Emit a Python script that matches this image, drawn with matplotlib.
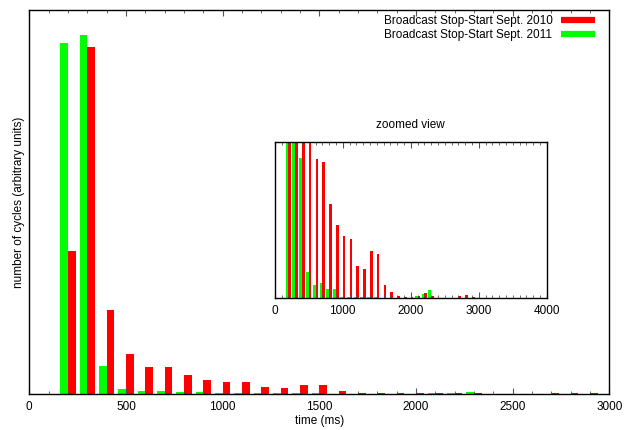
import numpy as np
import matplotlib
matplotlib.use("Agg")
import matplotlib.pyplot as plt
from matplotlib.lines import Line2D
from matplotlib.ticker import MultipleLocator

#Histogram data (arbitrary units), one bin every 100 ms
bins = list(range(100, 4000, 100))

stopstart_2010 = [0.0, 143, 347, 84, 40, 27, 26.5, 18.3, 14.2, 12.1,
                  11.5, 6.3, 5.7, 9.2, 8.6, 2.6, 1.2, 0.45, 0.3, 0.25,
                  0.45, 1.0, 0.45, 0.15, 0.15, 0.15, 0.5, 0.7, 0.3, 0.15,
                  0.1, 0.15, 0.1, 0.15, 0.1, 0.1, 0.1, 0.1, 0.15]

stopstart_2011 = [0.1, 351, 359, 27.3, 5.1, 2.6, 3.0, 1.8, 1.8, 0.25,
                  0.25, 0.25, 0.25, 0.25, 0.25, 0.15, 0.1, 0.1, 0.1, 0.15,
                  0.45, 0.85, 1.6, 0.15, 0.1, 0.1, 0.1, 0.1, 0.1, 0.1,
                  0.1, 0.1, 0.1, 0.1, 0.1, 0.1, 0.1, 0.1, 0.15]

labels = ["Broadcast Stop-Start Sept. 2010", "Broadcast Stop-Start Sept. 2011"]
colors = ["#ff0000", "#00ff00"]

BAR_WIDTH = 40
FONT = "Liberation Sans"
FS = 8.5

W, H = 629, 430


def draw_bars(ax):
    x = np.array(bins)
    ax.bar(x - BAR_WIDTH, stopstart_2011, width=BAR_WIDTH, align="edge",
           color=colors[1], linewidth=0)
    ax.bar(x, stopstart_2010, width=BAR_WIDTH, align="edge",
           color=colors[0], linewidth=0)


def style_axis(ax, major, minor):
    ax.xaxis.set_major_locator(MultipleLocator(major))
    ax.xaxis.set_minor_locator(MultipleLocator(minor))
    ax.tick_params(axis="x", which="both", direction="in", top=True,
                   bottom=True, color="#555555", labelsize=FS, pad=5)
    ax.tick_params(axis="x", which="major", length=4, width=0.8)
    ax.tick_params(axis="x", which="minor", length=2.2, width=0.6)
    ax.set_yticks([])
    for spine in ax.spines.values():
        spine.set_linewidth(1.0)
        spine.set_color("black")
    for lbl in ax.get_xticklabels():
        lbl.set_fontfamily(FONT)


def main():
    plt.rcParams["font.family"] = [FONT, "DejaVu Sans"]
    fig = plt.figure(figsize=(W / 100, H / 100), dpi=100)

    #Main plot
    left, right, top, bottom = 29.3, 609.3, 10.3, 393.7
    ax = fig.add_axes([left / W, 1 - bottom / H, (right - left) / W,
                       (bottom - top) / H])
    draw_bars(ax)
    ax.set_xlim(0, 3000)
    ax.set_ylim(0, 383.4)
    style_axis(ax, 500, 100)
    ax.set_xlabel("time (ms)", fontsize=FS, labelpad=2)
    ax.set_ylabel("number of cycles (arbitrary units)", fontsize=FS,
                  labelpad=3)

    #Legend
    handles = [Line2D([0], [0], color=c, lw=4.5, solid_capstyle="butt")
               for c in colors]
    fig.legend(handles, labels, loc="upper right", markerfirst=False,
               frameon=False, fontsize=FS, handlelength=2.9,
               handletextpad=0.7, labelspacing=0.15, borderpad=0,
               borderaxespad=0, bbox_to_anchor=(595 / W, 1 - 15 / H))

    #Zoomed inset
    ileft, iright, itop, ibottom = 274.7, 546.7, 141.7, 298.3
    ins = fig.add_axes([ileft / W, 1 - ibottom / H, (iright - ileft) / W,
                        (ibottom - itop) / H])
    draw_bars(ins)
    ins.set_xlim(0, 4000)
    ins.set_ylim(0, 30.4)
    style_axis(ins, 1000, 100)
    ins.set_title("zoomed view", fontsize=FS, pad=10)

    fig.savefig("out.png", dpi=100)


if __name__ == "__main__":
    main()
